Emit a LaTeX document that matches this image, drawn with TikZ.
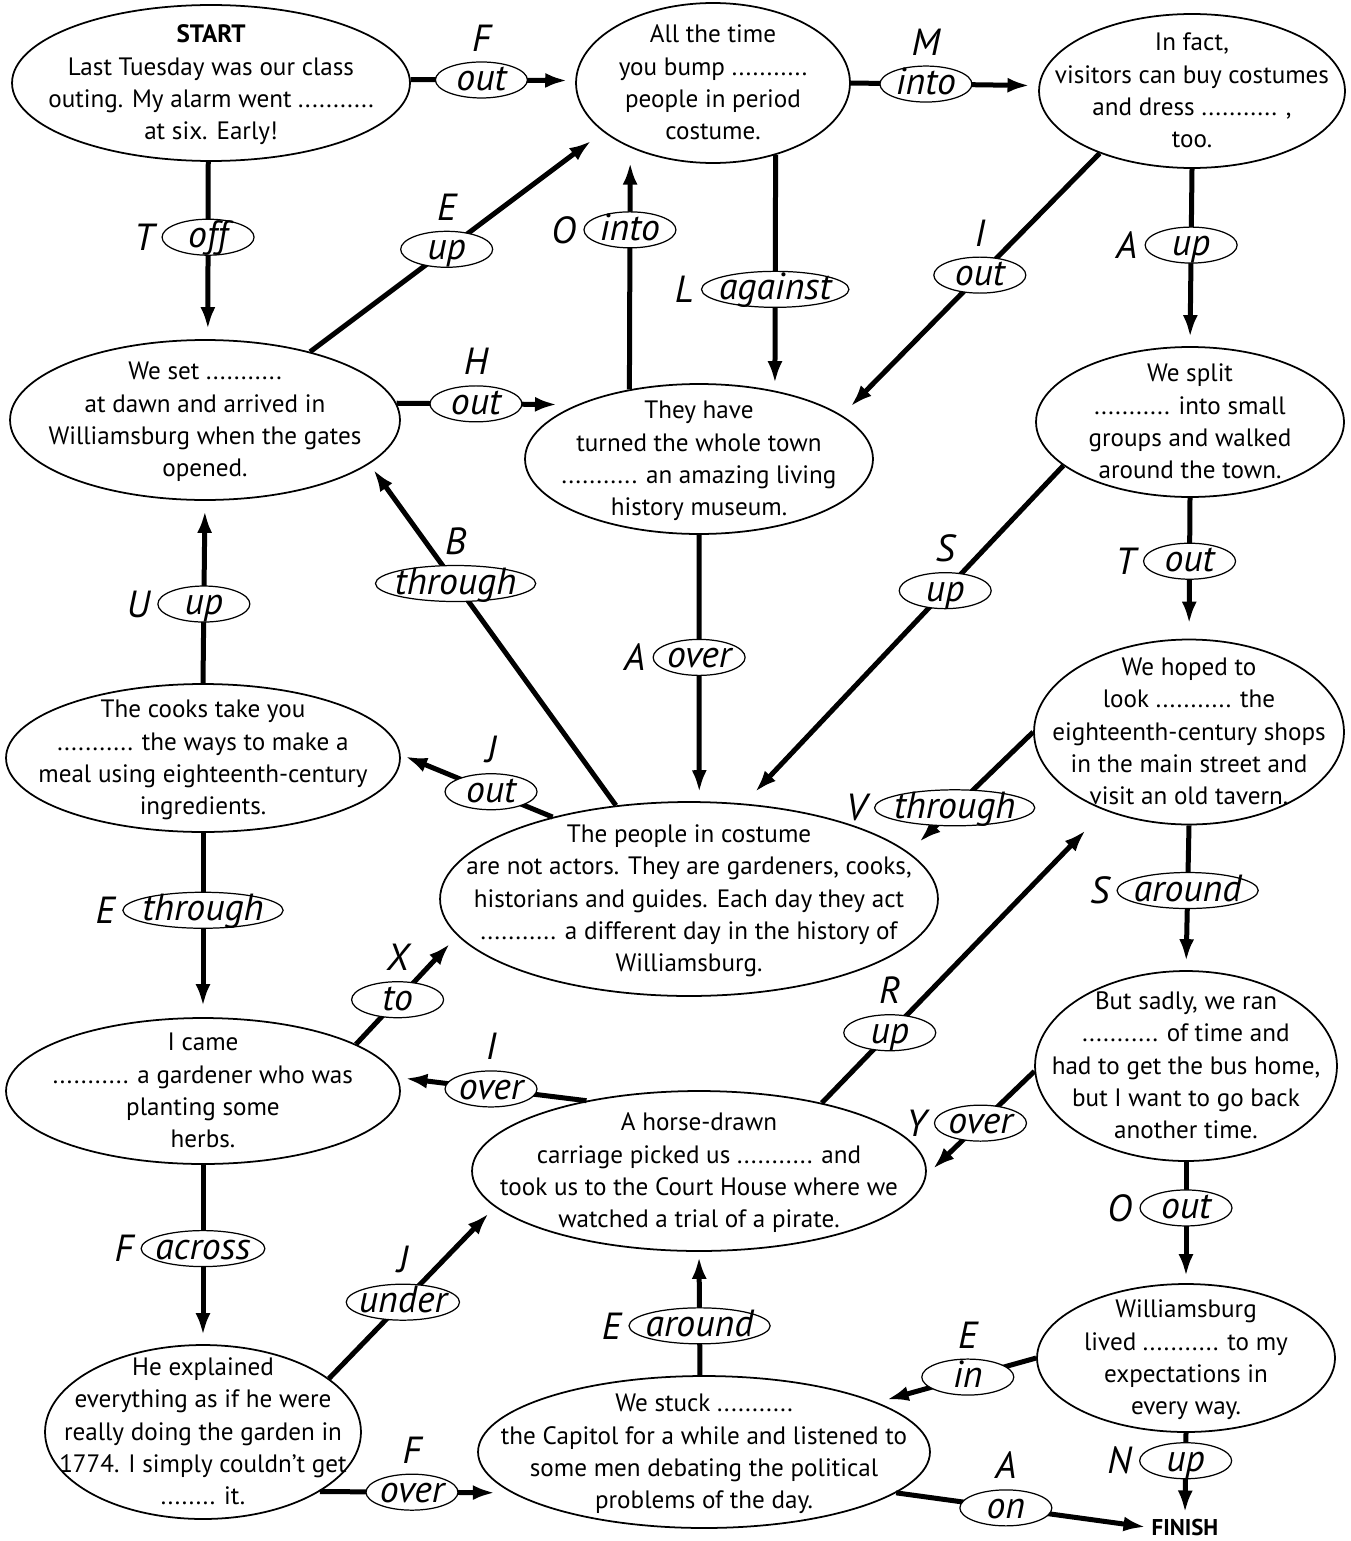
\documentclass[tikz,border=0pt]{standalone}
\usepackage{fontspec}
\setmainfont{PT Sans}
\usetikzlibrary{shapes.geometric,positioning,arrows.meta}
\newcommand{\ovaltext}[1]{\makebox[0pt]{\smash{\raisebox{-0.16cm}{\begin{tabular}{@{}c@{}}#1\end{tabular}}}}}
\tikzstyle{oval}=[ellipse,draw,line width=1pt,inner sep=0pt,font=\fontsize{14.3}{18.3}\selectfont]
\tikzstyle{lab}=[ellipse,draw,fill=white,line width=0.7pt,inner xsep=-0.08cm,inner ysep=0pt,minimum width=1.84cm,minimum height=0.72cm,text height=12pt,text depth=0pt,font=\fontsize{21.5}{21.5}\selectfont\itshape]
\tikzstyle{letter}=[inner sep=0pt,font=\fontsize{21.5}{21.5}\selectfont\itshape]
\tikzstyle{arr}=[line width=0.1cm,-{Latex[length=0.44cm,width=0.3cm]}]

\begin{document}
\begin{tikzpicture}[x=0.02cm,y=-0.02cm]
    \useasboundingbox (0,0) rectangle (1351,1541);
    % the story boxes
    \node[oval,minimum width=7.96cm,minimum height=3.12cm] (start) at (211,83) {\ovaltext{\textbf{START}\\Last Tuesday was our class\\outing. My alarm went ...........\\at six. Early!}};
    \node[oval,minimum width=5.48cm,minimum height=3.2cm] (allt) at (713,83) {\ovaltext{All the time\\you bump ...........\\people in period\\costume.}};
    \node[oval,minimum width=6.12cm,minimum height=3.08cm] (fact) at (1192,91) {\ovaltext{In fact,\\visitors can buy costumes\\and dress ........... ,\\too.}};
    \node[oval,minimum width=7.8cm,minimum height=3.2cm] (set) at (205,420) {\ovaltext{We set ...........\\at dawn and arrived in\\Williamsburg when the gates\\opened.}};
    \node[oval,minimum width=6.96cm,minimum height=3.0cm] (have) at (699,459) {\ovaltext{They have\\turned the whole town\\........... an amazing living\\history museum.}};
    \node[oval,minimum width=6.16cm,minimum height=3.0cm] (split) at (1190,422) {\ovaltext{We split\\........... into small\\groups and walked\\around the town.}};
    \node[oval,minimum width=7.88cm,minimum height=2.96cm] (cooks) at (203,758) {\ovaltext{The cooks take you\\........... the ways to make a\\meal using eighteenth-century\\ingredients.}};
    \node[oval,minimum width=9.96cm,minimum height=3.88cm] (people) at (689,899) {\ovaltext{The people in costume\\are not actors. They are gardeners, cooks,\\historians and guides. Each day they act\\........... a different day in the history of\\Williamsburg.}};
    \node[oval,minimum width=6.2cm,minimum height=3.7cm] (hoped) at (1189,732) {\ovaltext{We hoped to\\look ........... the\\eighteenth-century shops\\in the main street and\\visit an old tavern.}};
    \node[oval,minimum width=7.88cm,minimum height=2.92cm] (came) at (203,1091) {\ovaltext{I came\\........... a gardener who was\\planting some\\herbs.}};
    \node[oval,minimum width=9.08cm,minimum height=3.2cm] (horse) at (699,1171) {\ovaltext{A horse-drawn\\carriage picked us ........... and\\took us to the Court House where we\\watched a trial of a pirate.}};
    \node[oval,minimum width=6.04cm,minimum height=3.8cm] (sadly) at (1186,1066) {\ovaltext{But sadly, we ran\\........... of time and\\had to get the bus home,\\but I want to go back\\another time.}};
    \node[oval,minimum width=6.32cm,minimum height=3.48cm] (expl) at (203,1432) {\ovaltext{He explained\\everything as if he were\\really doing the garden in\\1774. I simply couldn’t get\\........ it.}};
    \node[oval,minimum width=9.04cm,minimum height=3.04cm] (stuck) at (704,1452) {\ovaltext{We stuck ...........\\the Capitol for a while and listened to\\some men debating the political\\problems of the day.}};
    \node[oval,minimum width=5.96cm,minimum height=2.96cm] (lived) at (1186,1358) {\ovaltext{Williamsburg\\lived ........... to my\\expectations in\\every way.}};
    \node[font=\fontsize{13}{13}\selectfont\bfseries] (finish) at (1185,1527) {FINISH};

    % the links
    \draw[arr,shorten >=0.16cm] (start.1) -- node[lab,pos=.43] (w1) {out} (allt.179);
    \node[letter,above=0.2cm of w1] (k1) {F};
    \draw[arr,shorten >=0.2cm] (start.-92) -- node[lab,pos=.425] (w2) {off} (set.88);
    \node[letter,left=0.14cm of w2] (k2) {T};
    \draw[arr,shorten >=0.3cm] (set.33) -- node[lab,pos=.466] (w3) {up} (allt.-156);
    \node[letter,above=0.2cm of w3] (k3) {E};
    \draw[arr,shorten >=0.4cm] (set.5) -- node[lab,pos=.44] (w4) {out} (have.156);
    \node[letter,above=0.2cm of w4] (k4) {H};
    \draw[arr,shorten >=0.3cm] (have.135) -- node[lab,pos=.66] (w5) {into} (allt.-142);
    \node[letter,left=0.14cm of w5] (k5) {O};
    \draw[arr,shorten >=0.15cm] (allt.-49) -- node[lab,pos=.57] (w6) {against} (have.42);
    \node[letter,left=0.14cm of w6] (k6) {L};
    \draw[arr,shorten >=0.18cm] (allt.0) -- node[lab,pos=.4] (w7) {into} (fact.178);
    \node[letter,above=0.2cm of w7] (k7) {M};
    \draw[arr,shorten >=0.25cm] (fact.-146) -- node[lab,pos=.465] (w8) {out} (have.17);
    \node[letter,above=0.2cm of w8] (k8) {I};
    \draw[arr,shorten >=0.18cm] (fact.-90) -- node[lab,pos=.43] (w9) {up} (split.90);
    \node[letter,left=0.14cm of w9] (k9) {A};
    \draw[arr,shorten >=0.32cm] (split.-161) -- node[lab,pos=.37] (w10) {up} (people.60);
    \node[letter,above=0.2cm of w10] (k10) {S};
    \draw[arr,shorten >=0.3cm] (split.-90) -- node[lab,pos=.45] (w11) {out} (hoped.90);
    \node[letter,left=0.14cm of w11] (k11) {T};
    \draw[arr,shorten >=0.18cm] (have.-90) -- node[lab,pos=.46] (w12) {over} (people.84);
    \node[letter,left=0.14cm of w12] (k12) {A};
    \draw[arr,shorten >=0.14cm] (people.128) -- node[lab,pos=.65] (w13) {through} (set.-15);
    \node[letter,above=0.2cm of w13] (k13) {B};
    \draw[arr,shorten >=0.1cm] (people.149) -- node[lab,pos=.405] (w14) {out} (cooks.1);
    \node[letter,above=0.2cm of w14] (k14) {J};
    \draw[arr,shorten >=0.2cm] (cooks.90) -- node[lab,pos=.434] (w15) {up} (set.-90);
    \node[letter,left=0.14cm of w15] (k15) {U};
    \draw[arr,shorten >=0.22cm] (cooks.-90) -- node[lab,pos=.42] (w16) {through} (came.90);
    \node[letter,left=0.14cm of w16] (k16) {E};
    \draw[arr,shorten >=0.3cm] (hoped.180) -- node[lab,pos=.63] (w17) {through} (people.12);
    \node[letter,left=0.14cm of w17] (k17) {V};
    \draw[arr,shorten >=0.18cm] (hoped.-90) -- node[lab,pos=.45] (w18) {around} (sadly.90);
    \node[letter,left=0.14cm of w18] (k18) {S};
    \draw[arr,shorten >=0.22cm] (came.17) -- node[lab,pos=.41] (w19) {to} (people.-171);
    \node[letter,above=0.2cm of w19] (k19) {X};
    \draw[arr,shorten >=0.16cm] (horse.148) -- node[lab,pos=.505] (w20) {over} (came.4);
    \node[letter,above=0.2cm of w20] (k20) {I};
    \draw[arr,shorten >=0.55cm] (horse.29) -- node[lab,pos=.24] (w21) {up} (hoped.-137);
    \node[letter,above=0.2cm of w21] (k21) {R};
    \draw[arr,shorten >=0.18cm] (sadly.-178) -- node[lab,pos=.5] (w22) {over} (horse.-1);
    \node[letter,left=0.14cm of w22] (k22) {Y};
    \draw[arr,shorten >=0.14cm] (sadly.-90) -- node[lab,pos=.38] (w23) {out} (lived.90);
    \node[letter,left=0.14cm of w23] (k23) {O};
    \draw[arr,shorten >=0.18cm] (came.-90) -- node[lab,pos=.467] (w24) {across} (expl.90);
    \node[letter,left=0.14cm of w24] (k24) {F};
    \draw[arr,shorten >=0.18cm] (expl.23) -- node[lab,pos=.445] (w25) {under} (horse.-170);
    \node[letter,above=0.2cm of w25] (k25) {J};
    \draw[arr,shorten >=0.34cm] (expl.-27) -- node[lab,pos=.48] (w26) {over} (stuck.-168);
    \node[letter,above=0.2cm of w26] (k26) {F};
    \draw[arr,shorten >=0.1cm] (stuck.93) -- node[lab,pos=.4] (w27) {around} (horse.-90);
    \node[letter,left=0.14cm of w27] (k27) {E};
    \draw[arr,shorten >=0.2cm] (lived.180) -- node[lab,pos=.43] (w28) {in} (stuck.16);
    \node[letter,above=0.2cm of w28] (k28) {E};
    \draw[arr] (lived.-90) -- node[lab,pos=.35] (w29) {up} (finish.north);
    \node[letter,left=0.14cm of w29] (k29) {N};
    \draw[arr] (stuck.-12) -- node[lab,pos=.44] (w30) {on} (finish.west);
    \node[letter,above=0.2cm of w30] (k30) {A};
\end{tikzpicture}
\end{document}
